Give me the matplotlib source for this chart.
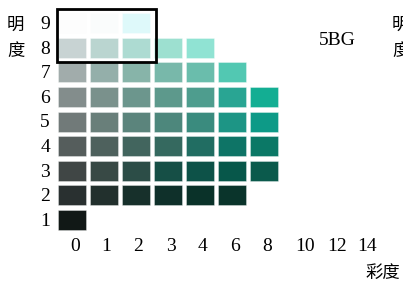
import matplotlib
matplotlib.use("Agg")
import matplotlib.pyplot as plt
import matplotlib.patches as patches

# Munsell hue 5BG: value (明度) vs chroma (彩度)
hue_name = "5BG"
chroma_steps = [0, 1, 2, 3, 4, 6, 8]
chroma_ticks = ["0", "1", "2", "3", "4", "6", "8", "10", "12", "14"]
value_steps = [9, 8, 7, 6, 5, 4, 3, 2, 1]

# one colour per available chroma step, per value row
row_9 = ["#fdfdfd", "#fafcfc", "#def9fa"]
row_8 = ["#c8d3d3", "#bad5d0", "#addbd2", "#9de0d0", "#90e3d3"]
row_7 = ["#a1acab", "#94afaa", "#87b4a9", "#78b8aa", "#6abdac", "#52c8b2"]
row_6 = ["#838d8c", "#7a918c", "#6c968d", "#5d998c", "#4e9d8e", "#29a593", "#13ae93"]
row_5 = ["#717a79", "#697f7a", "#5b847c", "#4d877c", "#3a8b7e", "#1d9585", "#0d9a87"]
row_4 = ["#555d5c", "#4e615d", "#42655e", "#35695f", "#216d62", "#0e7466", "#0b7866"]
row_3 = ["#404645", "#384945", "#2c4d47", "#164f46", "#0d5248", "#07574a", "#0b5a4c"]
row_2 = ["#293030", "#22302d", "#17302b", "#0f302a", "#0a3229", "#0a342b"]
row_1 = ["#111816"]
rows = [row_9, row_8, row_7, row_6, row_5, row_4, row_3, row_2, row_1]

plt.rcParams["font.family"] = ["Liberation Serif", "Noto Sans CJK SC"]
cjk = ["Noto Sans CJK SC", "DejaVu Sans"]

fig = plt.figure(figsize=(4.03, 2.86), dpi=100)
ax = fig.add_axes([0, 0, 1, 1])
ax.set_xlim(-2.25, 10.34)
ax.set_ylim(-1.683, 9.943)
ax.axis("off")

cw, ch = 0.875, 0.81
for v, colors in zip(value_steps, rows):
    for i, c in enumerate(colors):
        ax.add_patch(patches.Rectangle((i - cw / 2, v - ch / 2), cw, ch,
                                       facecolor=c, edgecolor=(1, 1, 1, 0.4),
                                       linewidth=0.6))

# highlight box round the lightest cells
ax.add_patch(patches.Rectangle((-0.48, 7.42), 3.1, 2.16, fill=False,
                               edgecolor="black", linewidth=2.0))

# tick labels
label_pos = [0.09, 1.06, 2.06, 3.09, 4.09, 5.09, 6.09, 7.28, 8.28, 9.22]
for x, t in zip(label_pos, chroma_ticks):
    ax.text(x, -0.06, t, fontsize=14, ha="center", va="center")
for v in value_steps:
    ax.text(-0.84, v - 0.05, str(v), fontsize=14, ha="center", va="center")

ax.text(-1.78, 8.95, "明", family=cjk, fontsize=12.5, ha="center", va="center")
ax.text(-1.75, 7.85, "度", family=cjk, fontsize=12.5, ha="center", va="center")
# second axis title, cut by the right edge as in the source
ax.text(10.25, 8.95, "明", family=cjk, fontsize=12.5, ha="center", va="center")
ax.text(10.28, 7.85, "度", family=cjk, fontsize=12.5, ha="center", va="center")
ax.text(8.28, 8.28, hue_name, fontsize=14, ha="center", va="center")
ax.text(9.72, -1.15, "彩度", family=cjk, fontsize=12.5, ha="center", va="center")

fig.savefig("out.png", dpi=100)
